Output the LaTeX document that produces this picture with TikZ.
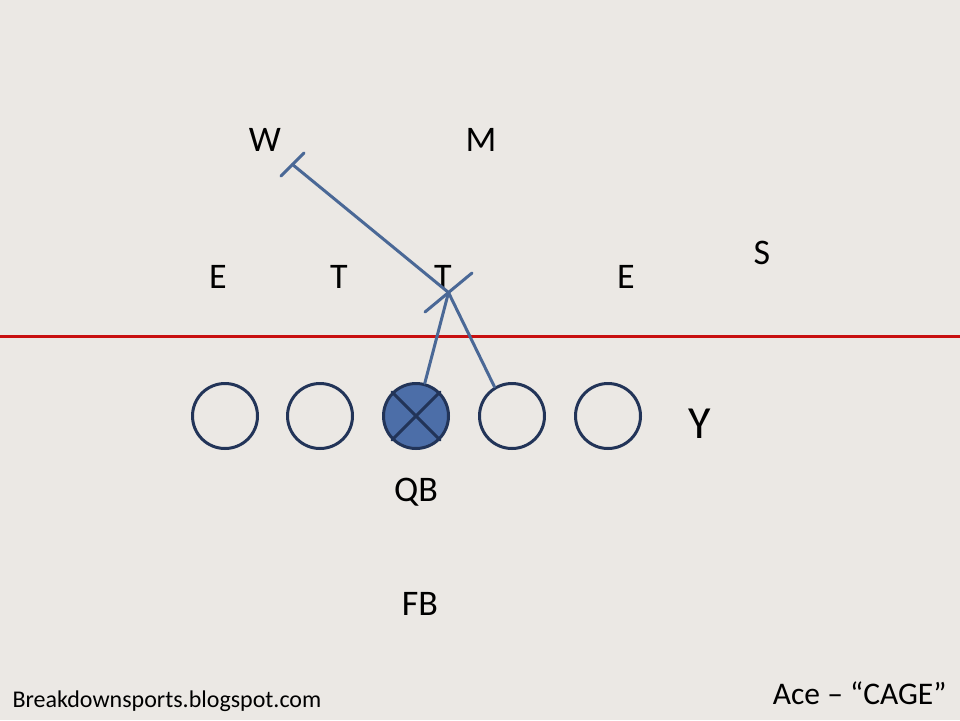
\documentclass[tikz,border=0pt]{standalone}
\usepackage{fontspec}
\setmainfont{Carlito}
\definecolor{field}{RGB}{235,232,228}
\definecolor{navy}{RGB}{34,52,88}
\definecolor{steel}{RGB}{76,110,168}
\definecolor{blockln}{RGB}{74,104,150}
\definecolor{los}{RGB}{200,16,16}
\begin{document}
\begin{tikzpicture}[x=1pt, y=-1pt, line join=round, line cap=round,
	player/.style={circle, draw=navy, line width=3pt, minimum size=65pt, inner sep=0pt},
	def/.style={font=\fontsize{36}{42}\selectfont},
	blk/.style={draw=blockln, line width=3pt}]
		\fill[field] (0,0) rectangle (960,720);
		\useasboundingbox (0,0) rectangle (960,720);
		% line of scrimmage
		\draw[los, line width=3pt, line cap=butt] (0,336)--(960,336);
		% offensive line
		\foreach \n/\x in {lt/225, lg/320, rg/512, rt/608}
			\node[player] (\n) at (\x,416) {};
		\node[player, fill=steel] (c) at (416,416) {};
		\draw[navy, line width=3pt] (c.45)--(c.225) (c.135)--(c.315);
		\node at (700,424) (y) {\fontsize{46}{52}\selectfont Y};
		\node[def] at (416,492) (qb) {QB};
		\node[def] at (420,604) (fb) {FB};
		% defense
		\node[def] at (265,140) (w) {W};
		\node[def] at (481,140) (m) {M};
		\node[def] at (218,277) (el) {E};
		\node[def] at (339,277) (tl) {T};
		\node[def] at (443,277) (tr) {T};
		\node[def] at (626,277) (er) {E};
		\node[def] at (762,253) (s) {S};
		% blocks
		\coordinate (hit) at (448.5,292.5);
		\coordinate (wbar) at (292.5,164.5);
		\draw[blk] (c.75)--(hit) (rg.121)--(hit);
		\draw[blk] (wbar)--(hit);
		\draw[blk] (425,312)--(472,273);
		\draw[blk] (281,176)--(304,153);
		\node[anchor=base west, font=\fontsize{24}{28}\selectfont] at (9,707) (blog) {Breakdownsports.blogspot.com};
		\node[anchor=base east, font=\fontsize{31.5}{36}\selectfont] at (950,704) (title) {Ace -- “CAGE”};
\end{tikzpicture}
\end{document}
